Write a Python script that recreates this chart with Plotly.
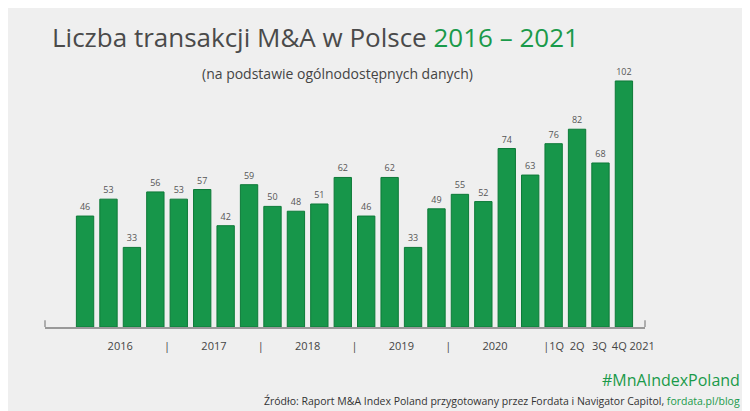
import plotly.graph_objects as go

values = [46,53,33,56,53,57,42,59,50,48,51,62,46,62,33,49,55,52,74,63,76,82,68,102]
tick_pos = [1.5,3.5,5.5,7.5,9.5,11.5,13.5,15.5,17.5,20,21,21.95,23.4]
tick_text = ["2016","|","2017","|","2018","|","2019","|","2020","|1Q","2Q","3Q","4Q 2021"]

x = list(range(len(values)))
fig = go.Figure()
fig.add_bar(x=x, y=values, width=0.74,
            marker=dict(color="#17964a", line=dict(color="#0d7a38", width=1)),
            text=[str(v) for v in values], textposition="outside",
            textfont=dict(size=9, color="#555", family="Open Sans"), cliponaxis=False)

fig.update_layout(
    width=750, height=411, paper_bgcolor="#efefef", plot_bgcolor="#efefef",
    margin=dict(l=37, r=113, t=52, b=92, autoexpand=False), showlegend=False,
    font=dict(family="Open Sans", color="#444"),
    xaxis=dict(range=[-1.71, 23.9], tickvals=tick_pos, ticktext=tick_text, tickangle=0,
               automargin=False, showgrid=False, zeroline=False, showline=True, linecolor="#999",
               linewidth=1.5, ticks="", ticklen=0, ticklabelstandoff=8,
               tickfont=dict(size=11, color="#444")),
    yaxis=dict(range=[0, 110.7], visible=False),
)
fig.add_shape(type="line", xref="paper", yref="paper", x0=0, x1=0, y0=0, y1=0.025,
              line=dict(color="#999", width=1.5))
fig.add_shape(type="line", xref="paper", yref="paper", x0=1, x1=1, y0=0, y1=0.025,
              line=dict(color="#999", width=1.5))
fig.add_annotation(xref="paper", yref="paper", x=0.008, y=1.086, xanchor="left", yanchor="middle",
                   showarrow=False,
                   text="Liczba transakcji M&A w Polsce <span style='color:#1a9a4a'>2016 – 2021</span>",
                   font=dict(size=26, color="#4a4a4a"))
fig.add_annotation(xref="paper", yref="paper", x=0.487, y=0.948, yanchor="middle", showarrow=False,
                   text="(na podstawie ogólnodostępnych danych)", font=dict(size=14, color="#444"))
fig.add_annotation(xref="paper", yref="paper", x=1.162, y=-0.199, xanchor="right", yanchor="middle",
                   showarrow=False, text="#MnAIndexPoland", font=dict(size=16, color="#1a9a4a"))
fig.add_annotation(xref="paper", yref="paper", x=1.162, y=-0.277, xanchor="right", yanchor="middle",
                   showarrow=False,
                   text="Źródło: Raport M&A Index Poland przygotowany przez Fordata i Navigator Capitol, <span style='color:#1a9a4a'>fordata.pl/blog</span>",
                   font=dict(size=10.5, color="#333"))
fig.write_html("out.html")
